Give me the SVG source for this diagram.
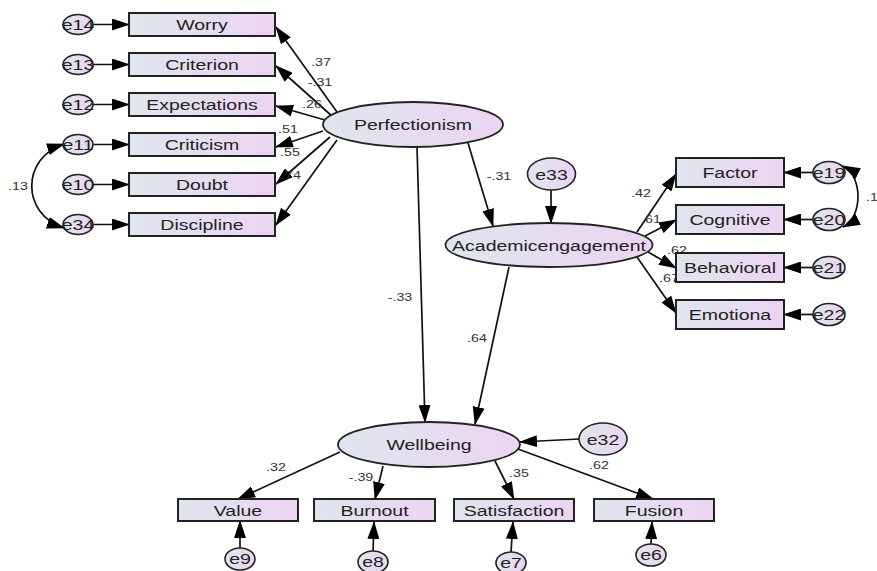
<svg xmlns="http://www.w3.org/2000/svg" width="877" height="571" viewBox="0 0 877 571">
<style>
.box{stroke:#222;stroke-width:2;fill:url(#g)}
.lat{stroke:#222;stroke-width:1.8;fill:url(#g)}
.err{stroke:#222;stroke-width:1.6;fill:url(#g)}
.t{font-family:"Liberation Sans",Arial,sans-serif;font-size:15px;fill:#222;text-anchor:middle}
.n{font-family:"Liberation Sans",Arial,sans-serif;font-size:11px;fill:#333;text-anchor:middle}
.c{stroke:#111;stroke-width:1.7;fill:none;marker-end:url(#ah)}
.cc{stroke:#111;stroke-width:1.7;fill:none;marker-start:url(#ah);marker-end:url(#ah)}
</style>
<defs>
<linearGradient id="g" x1="0" y1="0" x2="1" y2="0">
<stop offset="0" stop-color="#dfe6ee"/>
<stop offset="1" stop-color="#ecd4f1"/>
</linearGradient>
<marker id="ah" markerUnits="userSpaceOnUse" markerWidth="18" markerHeight="12" viewBox="0 0 18 12" refX="17" refY="6" orient="auto-start-reverse">
<path d="M0,0 L18,6 L0,12 z" fill="#000"/>
</marker>
</defs>
<rect width="877" height="571" fill="#fff"/>

<g id="connectors">
<path class="c" d="M93,24.5 L129,24.5"/>
<path class="c" d="M93,64.5 L129,64.5"/>
<path class="c" d="M93,104.5 L129,104.5"/>
<path class="c" d="M93,144.5 L129,144.5"/>
<path class="c" d="M93,184.5 L129,184.5"/>
<path class="c" d="M93,224.5 L129,224.5"/>
<path class="cc" d="M64,144 C21,158 21,214 64,228"/>
<path class="c" d="M337,112 L276,27"/>
<path class="c" d="M333,117 L276,66"/>
<path class="c" d="M325,120 L276,106"/>
<path class="c" d="M323,131 L276,147"/>
<path class="c" d="M330,137 L276,184"/>
<path class="c" d="M337,140 L276,225"/>
<path class="c" d="M468,143 L493,226"/>
<path class="c" d="M551,190 L551,223"/>
<path class="c" d="M417,147 L425,422"/>
<path class="c" d="M509,267 L475,424"/>
<path class="c" d="M637,232 L676,174"/>
<path class="c" d="M645,236 L676,220"/>
<path class="c" d="M648,252 L676,268"/>
<path class="c" d="M637,257 L676,313"/>
<path class="c" d="M813,172.5 L784,172.5"/>
<path class="c" d="M813,219.5 L784,219.5"/>
<path class="c" d="M813,267.5 L784,267.5"/>
<path class="c" d="M813,314.5 L784,314.5"/>
<path class="cc" d="M843,166 C863,176 863,217 843,227"/>
<path class="c" d="M579,439 L520,442"/>
<path class="c" d="M340,452 L238,499"/>
<path class="c" d="M383,466 L375,499"/>
<path class="c" d="M495,461 L514,499"/>
<path class="c" d="M518,449 L653,499"/>
<path class="c" d="M240,548 L240,521"/>
<path class="c" d="M373,552 L374,522"/>
<path class="c" d="M511,552 L513,522"/>
<path class="c" d="M651,544 L652,522"/>
</g>

<g id="labels">
<text class="n" transform="translate(321,66) scale(1.3,1)">.37</text>
<text class="n" transform="translate(320,86) scale(1.3,1)">-.31</text>
<text class="n" transform="translate(312,108) scale(1.3,1)">.26</text>
<text class="n" transform="translate(288,133) scale(1.3,1)">.51</text>
<text class="n" transform="translate(290,156) scale(1.3,1)">.55</text>
<text class="n" transform="translate(291,179) scale(1.3,1)">.74</text>
<text class="n" transform="translate(18,190) scale(1.3,1)">.13</text>
<text class="n" transform="translate(499,180) scale(1.3,1)">-.31</text>
<text class="n" transform="translate(400,301) scale(1.3,1)">-.33</text>
<text class="n" transform="translate(477,342) scale(1.3,1)">.64</text>
<text class="n" transform="translate(641,197) scale(1.3,1)">.42</text>
<text class="n" transform="translate(651,223) scale(1.3,1)">.61</text>
<text class="n" transform="translate(677,254) scale(1.3,1)">.62</text>
<text class="n" transform="translate(669,282) scale(1.3,1)">.67</text>
<text class="n" transform="translate(872,201) scale(1.3,1)">.1</text>
<text class="n" transform="translate(276,471) scale(1.3,1)">.32</text>
<text class="n" transform="translate(361,481) scale(1.3,1)">-.39</text>
<text class="n" transform="translate(519,477) scale(1.3,1)">.35</text>
<text class="n" transform="translate(599,469) scale(1.3,1)">.62</text>
</g>

<g id="e14"><ellipse class="err" cx="78" cy="24.5" rx="15" ry="10"/><text class="t" font-size="14" transform="translate(78,29.5) scale(1.3,1)">e14</text></g>
<g id="e13"><ellipse class="err" cx="78" cy="64.5" rx="15" ry="10"/><text class="t" font-size="14" transform="translate(78,69.5) scale(1.3,1)">e13</text></g>
<g id="e12"><ellipse class="err" cx="78" cy="104.5" rx="15" ry="10"/><text class="t" font-size="14" transform="translate(78,109.5) scale(1.3,1)">e12</text></g>
<g id="e11"><ellipse class="err" cx="78" cy="144.5" rx="15" ry="10"/><text class="t" font-size="14" transform="translate(78,149.5) scale(1.3,1)">e11</text></g>
<g id="e10"><ellipse class="err" cx="78" cy="184.5" rx="15" ry="10"/><text class="t" font-size="14" transform="translate(78,189.5) scale(1.3,1)">e10</text></g>
<g id="e34"><ellipse class="err" cx="78" cy="224.5" rx="15" ry="10"/><text class="t" font-size="14" transform="translate(78,229.5) scale(1.3,1)">e34</text></g>

<g id="worry"><rect class="box" x="129" y="13" width="146" height="23"/><text class="t" transform="translate(202,30) scale(1.3,1)">Worry</text></g>
<g id="criterion"><rect class="box" x="129" y="53" width="146" height="23"/><text class="t" transform="translate(202,70) scale(1.3,1)">Criterion</text></g>
<g id="expectations"><rect class="box" x="129" y="93" width="146" height="23"/><text class="t" transform="translate(202,110) scale(1.3,1)">Expectations</text></g>
<g id="criticism"><rect class="box" x="129" y="133" width="146" height="23"/><text class="t" transform="translate(202,150) scale(1.3,1)">Criticism</text></g>
<g id="doubt"><rect class="box" x="129" y="173" width="146" height="23"/><text class="t" transform="translate(202,190) scale(1.3,1)">Doubt</text></g>
<g id="discipline"><rect class="box" x="129" y="213" width="146" height="23"/><text class="t" transform="translate(202,230) scale(1.3,1)">Discipline</text></g>

<g id="perfectionism"><ellipse class="lat" cx="413" cy="124.5" rx="90" ry="22.5"/><text class="t" transform="translate(413,130) scale(1.3,1)">Perfectionism</text></g>
<g id="e33"><ellipse class="err" cx="551.5" cy="174" rx="24" ry="16"/><text class="t" transform="translate(551.5,179.5) scale(1.3,1)">e33</text></g>
<g id="academicengagement"><ellipse class="lat" cx="549" cy="245" rx="103.5" ry="22"/><text class="t" transform="translate(549,250.5) scale(1.3,1)">Academicengagement</text></g>

<g id="factor"><rect class="box" x="676" y="158" width="108" height="29"/><text class="t" transform="translate(730,178) scale(1.3,1)">Factor</text></g>
<g id="cognitive"><rect class="box" x="676" y="205" width="108" height="29"/><text class="t" transform="translate(730,225) scale(1.3,1)">Cognitive</text></g>
<g id="behavioral"><rect class="box" x="676" y="253" width="108" height="29"/><text class="t" transform="translate(730,273) scale(1.3,1)">Behavioral</text></g>
<g id="emotiona"><rect class="box" x="676" y="300" width="108" height="29"/><text class="t" transform="translate(730,320) scale(1.3,1)">Emotiona</text></g>

<g id="e19"><ellipse class="err" cx="829" cy="172.5" rx="16" ry="11"/><text class="t" font-size="14" transform="translate(829,177.5) scale(1.3,1)">e19</text></g>
<g id="e20"><ellipse class="err" cx="829" cy="219.5" rx="16" ry="11"/><text class="t" font-size="14" transform="translate(829,224.5) scale(1.3,1)">e20</text></g>
<g id="e21"><ellipse class="err" cx="829" cy="267.5" rx="16" ry="11"/><text class="t" font-size="14" transform="translate(829,272.5) scale(1.3,1)">e21</text></g>
<g id="e22"><ellipse class="err" cx="829" cy="314.5" rx="16" ry="11"/><text class="t" font-size="14" transform="translate(829,319.5) scale(1.3,1)">e22</text></g>

<g id="wellbeing"><ellipse class="lat" cx="429" cy="444.5" rx="91" ry="22.5"/><text class="t" transform="translate(429,450) scale(1.3,1)">Wellbeing</text></g>
<g id="e32"><ellipse class="err" cx="603" cy="439" rx="24" ry="16"/><text class="t" transform="translate(603,444.5) scale(1.3,1)">e32</text></g>

<g id="value"><rect class="box" x="178" y="499" width="120" height="22"/><text class="t" transform="translate(238,515.5) scale(1.3,1)">Value</text></g>
<g id="burnout"><rect class="box" x="314" y="499" width="121" height="22"/><text class="t" transform="translate(374.5,515.5) scale(1.3,1)">Burnout</text></g>
<g id="satisfaction"><rect class="box" x="454" y="499" width="120" height="22"/><text class="t" transform="translate(514,515.5) scale(1.3,1)">Satisfaction</text></g>
<g id="fusion"><rect class="box" x="594" y="499" width="120" height="22"/><text class="t" transform="translate(654,515.5) scale(1.3,1)">Fusion</text></g>

<g id="e9"><ellipse class="err" cx="240" cy="559" rx="15" ry="11"/><text class="t" font-size="14" transform="translate(240,564) scale(1.3,1)">e9</text></g>
<g id="e8"><ellipse class="err" cx="373" cy="562" rx="15" ry="11"/><text class="t" font-size="14" transform="translate(373,567) scale(1.3,1)">e8</text></g>
<g id="e7"><ellipse class="err" cx="511" cy="563" rx="15" ry="11"/><text class="t" font-size="14" transform="translate(511,568) scale(1.3,1)">e7</text></g>
<g id="e6"><ellipse class="err" cx="651" cy="555" rx="15" ry="11"/><text class="t" font-size="14" transform="translate(651,560) scale(1.3,1)">e6</text></g>
</svg>
